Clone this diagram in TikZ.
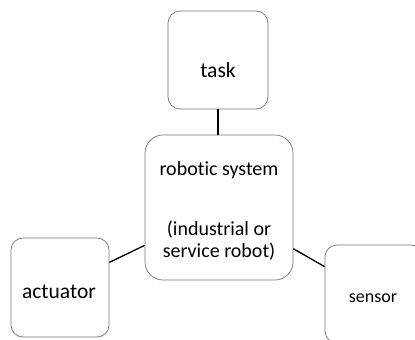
\documentclass[tikz,border=0pt]{standalone}
\usepackage{fontspec}
\setmainfont{Carlito}[Ligatures={NoCommon}]
\begin{document}
\begin{tikzpicture}[x=1pt,y=-1pt,
  box/.style={draw=black!55, line width=0.7pt, rounded corners=12pt, inner sep=0pt},
  link/.style={draw=black, line width=1.3pt},
  txt/.style={anchor=base, inner sep=0pt}]
\useasboundingbox (0,0) rectangle (415,340);
\clip (0,0) rectangle (415,340);
\node[box, minimum width=100pt, minimum height=98pt] (task) at (218,60) {};
\node[box, minimum width=148pt, minimum height=145pt, rounded corners=18pt] (robot) at (219,207.5) {};
\node[box, minimum width=98pt, minimum height=99pt] (act) at (60,287.5) {};
\node[box, minimum width=98pt, minimum height=98pt] (sen) at (374,294) {};
\node[txt, font=\fontsize{21.5}{25}\selectfont] (ttask) at (218,77) {task};
\node[txt, font=\fontsize{20}{24}\selectfont] (t1) at (219,175) {robotic system};
\node[txt, font=\fontsize{20}{24}\selectfont] (t2) at (219,235) {(industrial or};
\node[txt, font=\fontsize{20}{24}\selectfont] (t3) at (219,257) {service robot)};
\node[txt, font=\fontsize{21.5}{25}\selectfont] (tact) at (59,298) {actuator};
\node[txt, font=\fontsize{18}{22}\selectfont] (tsen) at (373,302) {sensor};
\draw[link] (task.south) -- (task.south |- robot.north);
\draw[link] (act.27) -- (robot.207.5);
\draw[link] (robot.331) -- (sen.151);
\end{tikzpicture}
\end{document}
